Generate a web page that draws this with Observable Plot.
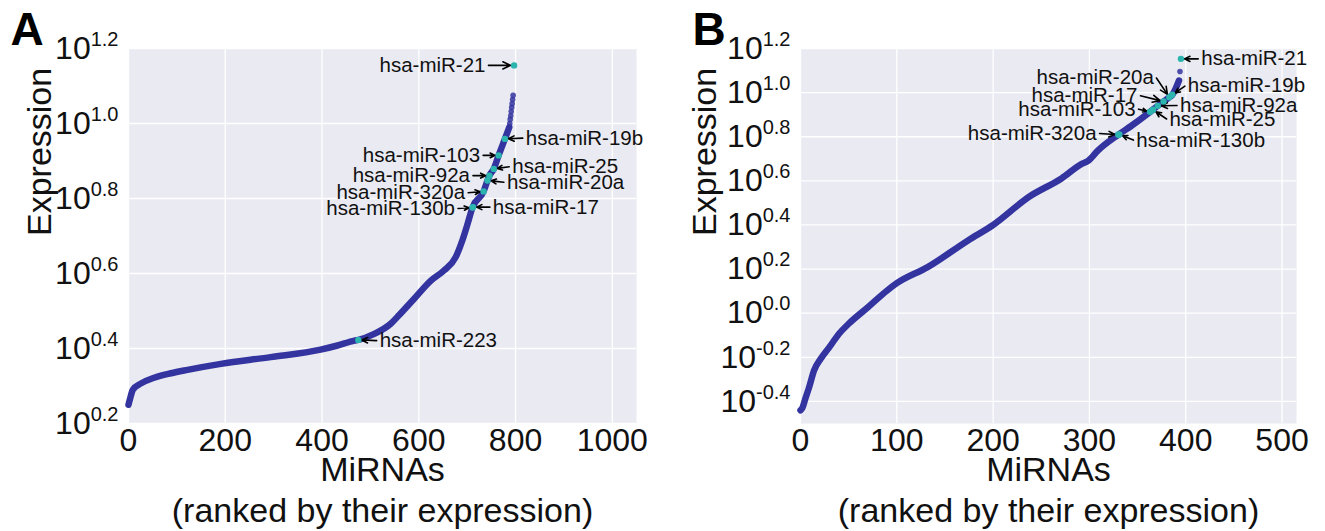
<!DOCTYPE html>
<html><head><meta charset="utf-8">
<script src="https://cdn.jsdelivr.net/npm/d3@7"></script>
<script src="https://cdn.jsdelivr.net/npm/@observablehq/plot@0.6"></script>
<style>
body{margin:0;background:#fff;}
#wrap{display:flex;width:1325px;height:531px;}
</style></head><body><div id="wrap"></div>
<script>
// ---------------- Panel A data (rank, log10 expression) ----------------
const rankA = [0, 3, 9, 26, 53, 88, 122, 191, 294, 397, 432, 467, 475, 508, 542, 560, 590, 625, 652, 676, 690, 701, 711, 734, 742, 746, 755, 765, 778, 787];
const logExprA = [0.25, 0.265, 0.29, 0.307, 0.322, 0.334, 0.343, 0.359, 0.377, 0.397, 0.408, 0.421, 0.423, 0.439, 0.466, 0.49, 0.532, 0.581, 0.608, 0.643, 0.688, 0.733, 0.776, 0.819, 0.848, 0.861, 0.879, 0.915, 0.959, 0.99];
const sparseRankA = [788, 789, 790, 791, 792, 793, 794, 795];
const sparseLogA = [1.0, 1.011, 1.021, 1.032, 1.043, 1.053, 1.064, 1.075];
const miRNAsA = ["hsa-miR-21", "hsa-miR-19b", "hsa-miR-103", "hsa-miR-25", "hsa-miR-92a", "hsa-miR-20a", "hsa-miR-320a", "hsa-miR-130b", "hsa-miR-17", "hsa-miR-223"];
const miRNARankA = [797, 778, 765, 755, 746, 742, 734, 711, 712, 475];
const miRNALogA = [1.155, 0.959, 0.915, 0.879, 0.861, 0.848, 0.819, 0.776, 0.777, 0.423];
const xTicksA = [0, 200, 400, 600, 800, 1000];
const yTickExpA = [0.2, 0.4, 0.6, 0.8, 1.0, 1.2];

// ---------------- Panel B data ----------------
const rankB = [0, 2, 5, 9, 14, 21, 30, 40, 50, 70, 90, 100, 132, 174, 200, 237, 271, 292, 299, 309, 330, 344, 363, 370, 377, 383, 386, 393];
const logExprB = [-0.44, -0.429, -0.388, -0.335, -0.26, -0.207, -0.154, -0.093, -0.048, 0.027, 0.103, 0.136, 0.209, 0.33, 0.40, 0.527, 0.611, 0.677, 0.692, 0.738, 0.809, 0.851, 0.913, 0.937, 0.96, 0.979, 0.99, 1.055];
const sparseRankB = [394];
const sparseLogB = [1.096];
const miRNAsB = ["hsa-miR-21", "hsa-miR-20a", "hsa-miR-19b", "hsa-miR-17", "hsa-miR-92a", "hsa-miR-103", "hsa-miR-25", "hsa-miR-320a", "hsa-miR-130b"];
const miRNARankB = [395, 383, 386, 377, 371, 363, 366, 330, 331];
const miRNALogB = [1.153, 0.979, 0.99, 0.96, 0.94, 0.913, 0.922, 0.809, 0.81];
const xTicksB = [0, 100, 200, 300, 400, 500];
const yTickExpB = [-0.4, -0.2, 0.0, 0.2, 0.4, 0.6, 0.8, 1.0, 1.2];

// ---------------- annotation layout (label anchor in data units, side) ----------------
const labelLayoutA = [
  [742, 1.155, "left"], [817, 0.961, "right"], [731, 0.915, "left"], [789, 0.885, "right"],
  [710, 0.861, "left"], [778, 0.843, "right"], [700, 0.815, "left"], [679, 0.773, "left"],
  [749, 0.777, "right"], [515, 0.421, "right"]
];
const labelLayoutB = [
  [414, 1.153, "right"], [369, 1.07, "left"], [400, 1.032, "right"], [352, 0.987, "left"],
  [392, 0.942, "right"], [350, 0.926, "left"], [381, 0.878, "right"], [309.5, 0.815, "left"],
  [346.6, 0.783, "right"]
];

const FONT = '"Liberation Sans", Arial, Helvetica, sans-serif';
const BLUE = "#3434a0";
const TEAL = "#2cb4ae";
const BG = "#EAEAF2";

function panel(cfg) {
  const curve = cfg.ranks.map((r, i) => ({rank: r, expr: 10 ** cfg.logs[i]}));
  const sparse = cfg.sRanks.map((r, i) => ({rank: r, expr: 10 ** cfg.sLogs[i]}));
  const hits = cfg.names.map((n, i) => ({
    name: n, rank: cfg.hRanks[i], expr: 10 ** cfg.hLogs[i],
    lx: cfg.layout[i][0], ly: 10 ** cfg.layout[i][1], side: cfg.layout[i][2]
  }));
  const yTicks = cfg.yExp.map(e => 10 ** e);
  const fmt = d => "10^" + (Math.round(Math.log10(d) * 10) / 10).toFixed(1);
  const p = Plot.plot({
    width: cfg.width, height: 531,
    marginTop: 48, marginBottom: 108, marginLeft: cfg.marginLeft, marginRight: cfg.marginRight,
    style: {fontFamily: FONT, fontSize: "32px", color: "#111", background: "white", overflow: "visible"},
    x: {domain: cfg.xDomain},
    y: {type: "log", domain: cfg.yDomain},
    marks: [
      Plot.frame({fill: BG, stroke: null}),
      Plot.gridX(cfg.xTicks, {stroke: "white", strokeOpacity: 1, strokeWidth: 1.3}),
      Plot.gridY(yTicks, {stroke: "white", strokeOpacity: 1, strokeWidth: 1.3}),
      Plot.axisX(cfg.xTicks, {tickSize: 0, tickPadding: 5, fontSize: 32, label: null, tickFormat: d => String(d)}),
      Plot.axisY(yTicks, {tickSize: 0, tickPadding: 10, fontSize: 32, label: null, tickFormat: fmt}),
      Plot.line(curve, {x: "rank", y: "expr", stroke: BLUE, strokeWidth: 6.5, strokeLinecap: "round", strokeLinejoin: "round", curve: "monotone-x"}),
      Plot.dot(sparse, {x: "rank", y: "expr", r: 2.8, fill: BLUE, fillOpacity: 0.85}),
      Plot.arrow(hits, {x1: "lx", y1: "ly", x2: "rank", y2: "expr", stroke: "black", strokeWidth: 1.6, headLength: 8, headAngle: 50, insetEnd: 3.5, insetStart: 1}),
      Plot.dot(hits, {x: "rank", y: "expr", r: 3.2, fill: TEAL}),
      Plot.text(hits.filter(d => d.side === "left"), {x: "lx", y: "ly", text: "name", textAnchor: "end", dx: -2, fontSize: 20.5, fill: "#111"}),
      Plot.text(hits.filter(d => d.side === "right"), {x: "lx", y: "ly", text: "name", textAnchor: "start", dx: 2, fontSize: 20.5, fill: "#111"}),
      Plot.text([cfg.letter], {frameAnchor: "top-left", textAnchor: "start", lineAnchor: "middle", dx: cfg.letterDx, dy: -18, fontSize: 46, fontWeight: "bold", fill: "black"}),
      Plot.text(["Expression"], {frameAnchor: "left", rotate: -90, dx: cfg.ylabelDx, fontSize: 34, fill: "#111"}),
      Plot.text(["MiRNAs\n(ranked by their expression)"], {frameAnchor: "bottom", lineAnchor: "top", dy: 29, fontSize: 34, lineHeight: 1.2, fill: "#111"})
    ]
  });
  for (const t of p.querySelectorAll("text")) {
    const m = /^10\^(.+)$/.exec(t.textContent);
    if (!m) continue;
    t.textContent = "10";
    const s = document.createElementNS("http://www.w3.org/2000/svg", "tspan");
    s.setAttribute("dy", "-13");
    s.setAttribute("font-size", "20");
    s.textContent = m[1];
    t.appendChild(s);
  }
  return p;
}

const wrap = document.getElementById("wrap");
wrap.appendChild(panel({
  width: 660, marginLeft: 128, marginRight: 24, xDomain: [0, 1050], yDomain: [10 ** 0.2, 10 ** 1.2],
  xTicks: xTicksA, yExp: yTickExpA, ranks: rankA, logs: logExprA, sRanks: sparseRankA, sLogs: sparseLogA,
  names: miRNAsA, hRanks: miRNARankA, hLogs: miRNALogA, layout: labelLayoutA,
  letter: "A", letterDx: -118, ylabelDx: -88
}));
wrap.appendChild(panel({
  width: 665, marginLeft: 140, marginRight: 29, xDomain: [0, 515], yDomain: [10 ** -0.5, 10 ** 1.2],
  xTicks: xTicksB, yExp: yTickExpB, ranks: rankB, logs: logExprB, sRanks: sparseRankB, sLogs: sparseLogB,
  names: miRNAsB, hRanks: miRNARankB, hLogs: miRNALogB, layout: labelLayoutB,
  letter: "B", letterDx: -108, ylabelDx: -95
}));
</script></body></html>
